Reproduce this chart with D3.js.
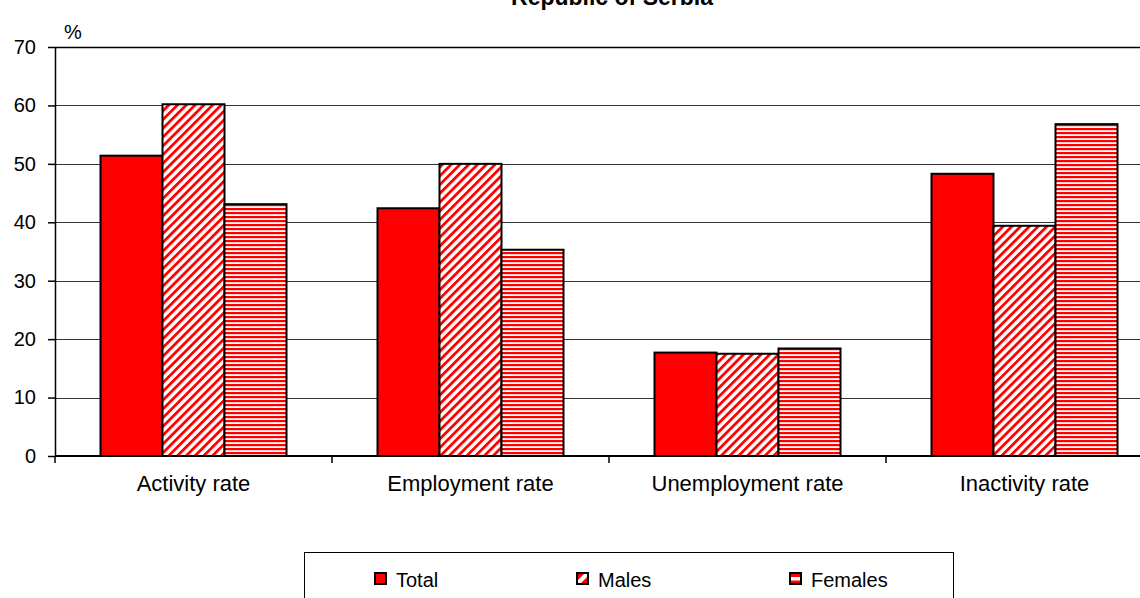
<!DOCTYPE html>
<html><head><meta charset="utf-8">
<script src="https://cdn.jsdelivr.net/npm/d3@7"></script>
<style>body{margin:0;background:#fff}svg{display:block}text{font-family:Arial,"Liberation Sans",sans-serif}</style>
</head><body><svg id="c" width="1140" height="598"></svg>
<script>
const categories = ["Activity rate","Employment rate","Unemployment rate","Inactivity rate"];
const seriesNames = ["Total","Males","Females"];
const totalValues = [51.4, 42.4, 17.7, 48.3];
const maleValues = [60.2, 50.0, 17.5, 39.4];
const femaleValues = [43.1, 35.3, 18.4, 56.8];
const yTicks = [0,10,20,30,40,50,60,70];
const title = "Republic of Serbia";

const svg = d3.select("#c");
const defs = svg.append("defs");
const pd = defs.append("pattern").attr("id","diag").attr("patternUnits","userSpaceOnUse")
  .attr("width",6.2).attr("height",6.2).attr("patternTransform","rotate(45)");
pd.append("rect").attr("width",6.2).attr("height",6.2).attr("fill","#fff");
pd.append("rect").attr("width",2.8).attr("height",6.2).attr("fill","#ff0000");
const ph = defs.append("pattern").attr("id","horiz").attr("patternUnits","userSpaceOnUse")
  .attr("width",8).attr("height",4);
ph.append("rect").attr("width",8).attr("height",4).attr("fill","#fff");
ph.append("rect").attr("width",8).attr("height",2.2).attr("fill","#ff0000");
const pdl = defs.append("pattern").attr("id","diagL").attr("patternUnits","objectBoundingBox").attr("width",1).attr("height",1);
pdl.append("rect").attr("width",11).attr("height",11).attr("fill","#ff0000");
pdl.append("path").attr("d","M0,8 L8,0 L11,0 L11,3 L3,11 L0,11 Z").attr("fill","#fff");
const phl = defs.append("pattern").attr("id","horizL").attr("patternUnits","objectBoundingBox").attr("width",1).attr("height",1);
phl.append("rect").attr("width",11).attr("height",11).attr("fill","#ff0000");
phl.append("rect").attr("y",4).attr("width",11).attr("height",3.5).attr("fill","#fff");

const fills = ["#ff0000","url(#diag)","url(#horiz)"];
const legFills = ["#ff0000","url(#diagL)","url(#horizL)"];
const seriesValues = [totalValues, maleValues, femaleValues];

const x0 = 55, bandW = 277;
const x = d3.scaleBand().domain(categories).range([x0, x0 + bandW*categories.length]);
const y = d3.scaleLinear().domain([0,70]).range([456,47]);
const barW = 62;

svg.append("g").selectAll("line").data(yTicks.filter(d=>d>0)).join("line")
  .attr("x1",x0).attr("x2",1140).attr("y1",d=>Math.round(y(d))+0.5).attr("y2",d=>Math.round(y(d))+0.5)
  .attr("stroke",d=>d===70?"#000":"#333").attr("stroke-width",d=>d===70?1.5:1);

categories.forEach((c,i)=>{
  const cx = x(c) + x.bandwidth()/2;
  seriesValues.forEach((vals,s)=>{
    const left = cx - barW*1.5 + s*barW;
    svg.append("rect").attr("x",left).attr("y",y(vals[i])).attr("width",barW)
      .attr("height",y(0)-y(vals[i])).attr("fill",fills[s]).attr("stroke","#000").attr("stroke-width",2);
  });
});

const yAxis = d3.axisLeft(y).tickValues(yTicks).tickSize(7).tickPadding(12).tickSizeOuter(0);
const ga = svg.append("g").attr("transform",`translate(${x0},0)`).call(yAxis);
ga.select(".domain").attr("stroke","#000").attr("stroke-width",1.5);
ga.selectAll(".tick line").attr("stroke","#000").attr("stroke-width",1.5);
ga.selectAll(".tick text").attr("font-size",20).attr("fill","#000").attr("font-family","Arial,'Liberation Sans',sans-serif");

svg.append("line").attr("x1",x0).attr("x2",1140).attr("y1",y(0)).attr("y2",y(0)).attr("stroke","#000").attr("stroke-width",2);
const bounds = d3.range(categories.length+1).map(i=>x0+i*bandW);
svg.append("g").selectAll("line").data(bounds).join("line")
  .attr("x1",d=>d).attr("x2",d=>d).attr("y1",y(0)).attr("y2",y(0)+7).attr("stroke","#000").attr("stroke-width",1.5);
svg.append("g").selectAll("text").data(categories).join("text")
  .attr("x",d=>x(d)+x.bandwidth()/2).attr("y",y(0)+35).attr("text-anchor","middle")
  .attr("font-size",22).text(d=>d);

svg.append("text").attr("x",612).attr("y",5).attr("text-anchor","middle").attr("font-size",23).attr("font-weight","bold").text(title);
svg.append("text").attr("x",64).attr("y",39).attr("font-size",20).text("%");

svg.append("rect").attr("x",304.5).attr("y",552.5).attr("width",649).attr("height",60).attr("fill","none").attr("stroke","#000").attr("stroke-width",1);
const legX = [375, 577, 790];
seriesNames.forEach((n,s)=>{
  svg.append("rect").attr("x",legX[s]).attr("y",573).attr("width",11).attr("height",11)
    .attr("fill",legFills[s]).attr("stroke","#000").attr("stroke-width",2);
  svg.append("text").attr("x",legX[s]+21).attr("y",587).attr("font-size",20).text(n);
});
</script></body></html>
